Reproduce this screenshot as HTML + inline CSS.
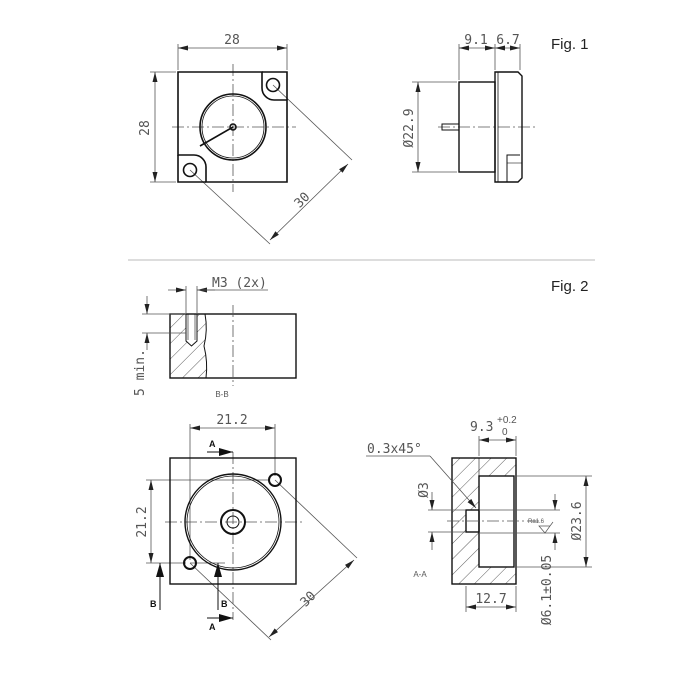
<!DOCTYPE html>
<html><head><meta charset="utf-8"><style>
html,body{margin:0;padding:0;background:#fff;width:700px;height:700px;overflow:hidden}
text{font-family:"Liberation Sans",sans-serif;}
.d{font-family:"DejaVu Sans Mono","Liberation Mono",monospace;fill:#555;font-size:13px}
</style></head><body>
<svg width="700" height="700" viewBox="0 0 700 700" xmlns="http://www.w3.org/2000/svg">
<defs>
<marker id="a" viewBox="0 0 10 6" refX="10" refY="3" markerWidth="10" markerHeight="6" orient="auto-start-reverse" markerUnits="userSpaceOnUse"><path d="M0,0.5 L10,3 L0,5.5z" fill="#222"/></marker>
<marker id="b" viewBox="0 0 14 8" refX="14" refY="4" markerWidth="14" markerHeight="8" orient="auto" markerUnits="userSpaceOnUse"><path d="M0,0 L14,4 L0,8z" fill="#111"/></marker>
<pattern id="h" patternUnits="userSpaceOnUse" width="11" height="11" patternTransform="rotate(45)"><line x1="0" y1="0" x2="0" y2="11" stroke="#333" stroke-width="0.8"/></pattern>
</defs>
<g fill="none" stroke="#555" stroke-width="0.8">
<line x1="178" y1="44" x2="178" y2="70"/><line x1="287" y1="44" x2="287" y2="70"/>
<line x1="178" y1="48" x2="287" y2="48" marker-start="url(#a)" marker-end="url(#a)"/>
<line x1="150" y1="72" x2="176" y2="72"/><line x1="150" y1="182" x2="176" y2="182"/>
<line x1="155" y1="72" x2="155" y2="182" marker-start="url(#a)" marker-end="url(#a)"/>
<line x1="273" y1="85" x2="352" y2="160"/><line x1="190" y1="170" x2="270" y2="244"/>
<line x1="270" y1="240" x2="348" y2="164" marker-start="url(#a)" marker-end="url(#a)"/>
<line x1="172" y1="127" x2="296" y2="127" stroke-dasharray="12,3,2,3"/>
<line x1="233" y1="64" x2="233" y2="192" stroke-dasharray="12,3,2,3"/>
</g>
<g fill="none" stroke="#111" stroke-width="1.6">
<path d="M178,72 H262 V88 A12,12 0 0 0 274,100 H287 V182 H206 V167 A12,12 0 0 0 194,155 H178 Z"/>
<path d="M262,72 H287 V100"/><path d="M178,155 V182 H206"/>
<circle cx="233" cy="127" r="33"/><circle cx="233" cy="127" r="31" stroke-width="0.8"/>
<circle cx="273" cy="85" r="6.5"/><circle cx="190" cy="170" r="6.5"/>
<circle cx="233" cy="127" r="3"/>
<line x1="233" y1="127" x2="200" y2="146"/>
</g>
<text class="d" x="232" y="44" text-anchor="middle">28</text>
<text class="d" transform="translate(149,128) rotate(-90)" text-anchor="middle">28</text>
<text class="d" transform="translate(305,203) rotate(-45)" text-anchor="middle">30</text>
<g fill="none" stroke="#555" stroke-width="0.8">
<line x1="459" y1="44" x2="459" y2="80"/><line x1="495" y1="44" x2="495" y2="70"/><line x1="520" y1="44" x2="520" y2="70"/>
<line x1="459" y1="48" x2="495" y2="48" marker-start="url(#a)" marker-end="url(#a)"/>
<line x1="495" y1="48" x2="520" y2="48" marker-start="url(#a)" marker-end="url(#a)"/>
<line x1="412" y1="82" x2="457" y2="82"/><line x1="412" y1="172" x2="457" y2="172"/>
<line x1="418" y1="82" x2="418" y2="172" marker-start="url(#a)" marker-end="url(#a)"/>
<line x1="438" y1="127" x2="537" y2="127" stroke-dasharray="12,3,2,3"/>
<line x1="507" y1="163" x2="522" y2="163"/>
</g>
<g fill="none" stroke="#111" stroke-width="1.4">
<rect x="459" y="82" width="36" height="90"/>
<path d="M495,72 H518 L522,76 V178 L518,182 H495 Z"/>
<line x1="498" y1="72" x2="498" y2="182" stroke-width="0.8"/>
<path d="M507,182 V155 H520" stroke-width="1"/>
<rect x="442" y="124" width="17" height="6" stroke-width="1"/>
</g>
<text class="d" x="476" y="44" text-anchor="middle">9.1</text>
<text class="d" x="508" y="44" text-anchor="middle">6.7</text>
<text class="d" transform="translate(413,128) rotate(-90)" text-anchor="middle">Ø22.9</text>
<text x="551" y="49" font-size="15" fill="#222">Fig. 1</text>
<line x1="128" y1="260" x2="595" y2="260" stroke="#bbb" stroke-width="1"/>
<text x="551" y="291" font-size="15" fill="#222">Fig. 2</text>
<path d="M170,314 H205 Q208,330 204,346 Q208,362 206,378 H170 Z" fill="url(#h)"/>
<rect x="186" y="314" width="11" height="28" fill="#fff"/>
<g fill="none" stroke="#111" stroke-width="1.4">
<rect x="170" y="314" width="126" height="64"/>
<path d="M205,314 Q208,330 204,346 Q208,362 206,378" stroke-width="1"/>
<path d="M186,314 V341 L191.5,346 L197,341 V314" stroke-width="1"/>
<line x1="188" y1="314" x2="188" y2="340" stroke-width="0.6"/><line x1="195" y1="314" x2="195" y2="340" stroke-width="0.6"/>
</g>
<g fill="none" stroke="#555" stroke-width="0.8">
<line x1="233" y1="305" x2="233" y2="386" stroke-dasharray="12,3,2,3"/>
<line x1="186" y1="286" x2="186" y2="313"/><line x1="197" y1="286" x2="197" y2="313"/>
<line x1="168" y1="290" x2="186" y2="290" marker-end="url(#a)"/>
<line x1="215" y1="290" x2="197" y2="290" marker-end="url(#a)"/>
<line x1="197" y1="290" x2="268" y2="290"/>
<line x1="142" y1="314" x2="186" y2="314"/><line x1="142" y1="333" x2="186" y2="333"/>
<line x1="147" y1="296" x2="147" y2="314" marker-end="url(#a)"/>
<line x1="147" y1="350" x2="147" y2="333" marker-end="url(#a)"/>
</g>
<text class="d" x="212" y="287">M3 (2x)</text>
<text class="d" transform="translate(144,396) rotate(-90)">5 min.</text>
<text x="222" y="397" font-size="8" fill="#555" text-anchor="middle" font-family="Liberation Mono">B-B</text>
<g fill="none" stroke="#555" stroke-width="0.8">
<line x1="190" y1="424" x2="190" y2="560"/><line x1="275" y1="424" x2="275" y2="476"/>
<line x1="190" y1="428" x2="275" y2="428" marker-start="url(#a)" marker-end="url(#a)"/>
<line x1="146" y1="480" x2="270" y2="480"/><line x1="146" y1="563" x2="186" y2="563"/>
<line x1="151" y1="480" x2="151" y2="563" marker-start="url(#a)" marker-end="url(#a)"/>
<line x1="275" y1="480" x2="357" y2="558"/><line x1="190" y1="563" x2="271" y2="640"/>
<line x1="269" y1="637" x2="354" y2="560" marker-start="url(#a)" marker-end="url(#a)"/>
<line x1="165" y1="522" x2="302" y2="522" stroke-dasharray="12,3,2,3"/>
<line x1="233" y1="452" x2="233" y2="620" stroke-dasharray="12,3,2,3"/>
<line x1="190" y1="563" x2="225" y2="563"/>
</g>
<g fill="none" stroke="#111" stroke-width="1.4">
<rect x="170" y="458" width="126" height="126"/>
<circle cx="233" cy="522" r="48"/><circle cx="233" cy="522" r="46" stroke-width="0.8"/>
<circle cx="233" cy="522" r="12" stroke-width="2"/><circle cx="233" cy="522" r="6" stroke-width="1"/>
<circle cx="275" cy="480" r="6" stroke-width="2"/><circle cx="190" cy="563" r="6" stroke-width="2"/>
<line x1="207" y1="452" x2="233" y2="452" marker-end="url(#b)" stroke-width="1"/>
<line x1="207" y1="618" x2="233" y2="618" marker-end="url(#b)" stroke-width="1"/>
<line x1="160" y1="610" x2="160" y2="563" marker-end="url(#b)" stroke-width="1"/>
<line x1="218" y1="610" x2="218" y2="563" marker-end="url(#b)" stroke-width="1"/>
</g>
<g font-size="9" font-weight="bold" fill="#111" font-family="Liberation Sans">
<text x="209" y="447">A</text><text x="209" y="630">A</text><text x="150" y="607">B</text><text x="221" y="607">B</text></g>
<text class="d" x="232" y="424" text-anchor="middle">21.2</text>
<text class="d" transform="translate(146,522) rotate(-90)" text-anchor="middle">21.2</text>
<text class="d" transform="translate(311,602) rotate(-45)" text-anchor="middle">30</text>
<path d="M452,458 H516 V476 H479 V510 H466 V532 H479 V567 H516 V584 H452 Z" fill="url(#h)"/>
<g fill="none" stroke="#111" stroke-width="1.4">
<rect x="452" y="458" width="64" height="126"/>
<rect x="479" y="476" width="35" height="91"/>
<rect x="466" y="510" width="13" height="22"/>
<line x1="479" y1="458" x2="479" y2="476" stroke-width="0.6"/>
</g>
<g fill="none" stroke="#555" stroke-width="0.8">
<line x1="447" y1="521" x2="540" y2="521" stroke-dasharray="12,3,2,3"/>
<line x1="479" y1="436" x2="479" y2="456"/><line x1="516" y1="436" x2="516" y2="456"/>
<line x1="479" y1="440" x2="516" y2="440" marker-start="url(#a)" marker-end="url(#a)"/>
<line x1="366" y1="456" x2="430" y2="456"/><line x1="430" y1="456" x2="476" y2="508" marker-end="url(#a)"/>
<line x1="428" y1="510" x2="466" y2="510"/><line x1="428" y1="532" x2="466" y2="532"/>
<line x1="432" y1="492" x2="432" y2="510" marker-end="url(#a)"/>
<line x1="432" y1="550" x2="432" y2="532" marker-end="url(#a)"/>
<line x1="516" y1="476" x2="592" y2="476"/><line x1="516" y1="567" x2="592" y2="567"/>
<line x1="586" y1="476" x2="586" y2="567" marker-start="url(#a)" marker-end="url(#a)"/>
<line x1="479" y1="510" x2="560" y2="510"/><line x1="479" y1="533" x2="560" y2="533"/>
<line x1="555" y1="494" x2="555" y2="510" marker-end="url(#a)"/>
<line x1="555" y1="550" x2="555" y2="533" marker-end="url(#a)"/>
<line x1="466" y1="586" x2="466" y2="612"/><line x1="516" y1="586" x2="516" y2="612"/>
<line x1="466" y1="607" x2="516" y2="607" marker-start="url(#a)" marker-end="url(#a)"/>
<path d="M539,526 L545,533 L550,526 Z M550,526 L553,522" stroke-width="0.7"/>
</g>
<text class="d" x="470" y="431">9.3</text>
<text x="497" y="423" font-size="10" fill="#555" font-family="DejaVu Sans Mono">+0.2</text>
<text x="502" y="435" font-size="10" fill="#555" font-family="DejaVu Sans Mono">0</text>
<text class="d" x="367" y="453">0.3x45°</text>
<text class="d" transform="translate(428,490) rotate(-90)" text-anchor="middle">Ø3</text>
<text class="d" transform="translate(581,521) rotate(-90)" text-anchor="middle">Ø23.6</text>
<text class="d" transform="translate(551,590) rotate(-90)" text-anchor="middle">Ø6.1±0.05</text>
<text class="d" x="491" y="603" text-anchor="middle">12.7</text>
<text x="528" y="523" font-size="6" fill="#555" font-family="Liberation Sans">Ra1.6</text>
<text x="420" y="577" font-size="8" fill="#555" text-anchor="middle" font-family="Liberation Mono">A-A</text>
</svg>
</body></html>
